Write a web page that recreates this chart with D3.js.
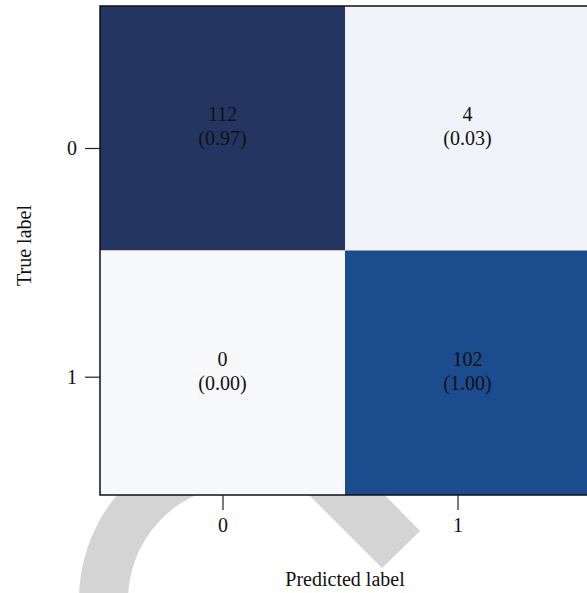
<!DOCTYPE html>
<html>
<head>
<meta charset="utf-8">
<script src="https://cdn.jsdelivr.net/npm/d3@7"></script>
<style>
  html, body { margin: 0; padding: 0; background: #fff; }
  svg { display: block; }
  text { font-family: "Liberation Serif", "Times New Roman", serif; fill: #111; }
</style>
</head>
<body>
<svg id="chart" width="587" height="593"></svg>
<script>
// Confusion matrix: rows = true label, columns = predicted label
const classLabels = ["0", "1"];
const counts = [
  [112, 4],
  [0, 102]
];
const rates = [
  [0.97, 0.03],
  [0.00, 1.00]
];

const W = 587, H = 593;
const margin = { left: 100, top: 6, right: -3, bottom: 98 };
const plotW = W - margin.left - margin.right;
const plotH = H - margin.top - margin.bottom;

const svg = d3.select("#chart");

// faint grey emblem behind the plot
const deco = svg.append("g").attr("fill", "#d4d4d4");
deco.append("path")
  .attr("transform", "translate(243,600)")
  .attr("d", d3.arc()
    .innerRadius(115).outerRadius(164)
    .startAngle(-110 * Math.PI / 180).endAngle(-8 * Math.PI / 180)());
deco.append("path")
  .attr("d", d3.line()([[292, 478], [368, 478], [420, 531], [382, 568]]) + "Z");

const g = svg.append("g").attr("transform", `translate(${margin.left},${margin.top})`);

const x = d3.scaleBand().domain(classLabels).range([0, plotW]);
const y = d3.scaleBand().domain(classLabels).range([0, plotH]);

const color = d3.scaleLinear()
  .domain([0, 4, 102, 112])
  .range(["#f7f8fb", "#f0f3f9", "#1b4c8d", "#243562"]);

const cells = [];
counts.forEach((row, i) => row.forEach((v, j) => cells.push({ i, j, v, r: rates[i][j] })));

g.selectAll("rect.cell").data(cells).join("rect")
  .attr("class", "cell")
  .attr("x", d => x(classLabels[d.j]))
  .attr("y", d => y(classLabels[d.i]))
  .attr("width", x.bandwidth())
  .attr("height", y.bandwidth())
  .attr("fill", d => color(d.v));

const lbl = g.selectAll("g.lbl").data(cells).join("g")
  .attr("class", "lbl")
  .attr("transform", d => `translate(${x(classLabels[d.j]) + x.bandwidth() / 2},${y(classLabels[d.i]) + y.bandwidth() / 2})`);
lbl.append("text").attr("text-anchor", "middle").attr("y", -7)
  .style("font-size", "20px").text(d => d.v);
lbl.append("text").attr("text-anchor", "middle").attr("y", 17)
  .style("font-size", "20px").text(d => `(${d.r.toFixed(2)})`);

// frame
g.append("rect").attr("x", 0).attr("y", 0).attr("width", plotW).attr("height", plotH)
  .attr("fill", "none").attr("stroke", "#111").attr("stroke-width", 1.5);

// tick positions
const xt = d3.scalePoint().domain(classLabels).range([122.5, 357.5]);
const yt = d3.scalePoint().domain(classLabels).range([142, 370.7]);

const xAxis = g.append("g").attr("transform", `translate(0,${plotH})`)
  .call(d3.axisBottom(xt).tickSize(15).tickPadding(8));
const yAxis = g.append("g")
  .call(d3.axisLeft(yt).tickSize(15).tickPadding(8));
[xAxis, yAxis].forEach(a => {
  a.select(".domain").remove();
  a.selectAll(".tick line").attr("stroke", "#222").attr("stroke-width", 1.2);
  a.selectAll(".tick text").style("font-size", "20px")
    .style("font-family", "'Liberation Serif', serif").attr("fill", "#111");
});

svg.append("text")
  .attr("x", margin.left + plotW / 2).attr("y", 586)
  .attr("text-anchor", "middle").style("font-size", "20px")
  .text("Predicted label");

svg.append("text")
  .attr("transform", `translate(31,${margin.top + plotH / 2 - 5}) rotate(-90)`)
  .attr("text-anchor", "middle").style("font-size", "20px")
  .text("True label");
</script>
</body>
</html>
